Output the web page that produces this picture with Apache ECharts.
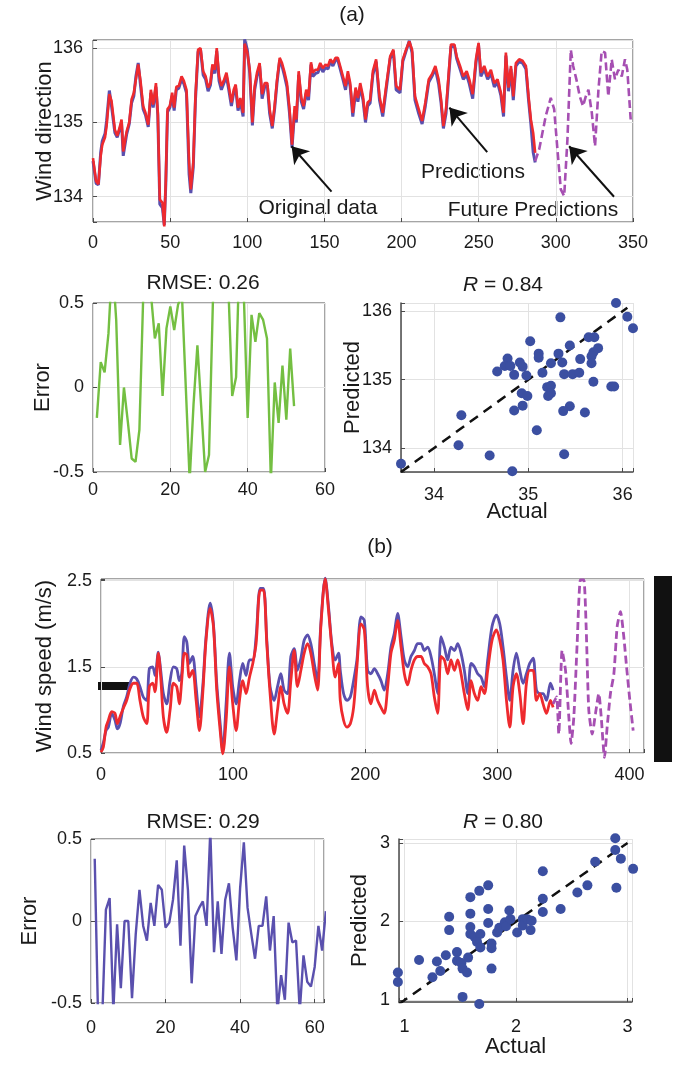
<!DOCTYPE html>
<html>
<head>
<meta charset="utf-8" />
<title>Wind direction / wind speed predictions</title>
<script src="https://cdn.jsdelivr.net/npm/echarts@6/dist/echarts.min.js"></script>
<style>
  * { margin: 0; padding: 0; }
  html, body { width: 100%; height: 100%; background: #fff; }
  #main { width: 700px; height: 1074px; }
</style>
</head>
<body>
<div id="main"></div>
<script>
// ---------- (a) wind direction ----------
var aX = [0,2,3.5,5,6,7.8,8.8,10.6,12,14.2,15.7,17.5,18.5,19.6,21.8,23.5,25,26.5,27.8,29.3,
  30.8,32.5,34,35.8,37.5,39,40.8,42,43.3,45,46.2,47.2,48.3,49.8,51.3,52.6,54,55.6,57.4,58.9,
  60.6,62.3,63.4,65,66.4,68.1,69.7,71.4,73,74.6,76.1,77.4,79,80.2,81.7,83.2,84.7,86.5,88,89.7,
  91.2,92.5,94,95.5,97.3,98.3,100,101.6,103.3,104.8,106.3,108,109.6,111.3,113,114.5,116.2,117.7,119.3,121,
  122.5,124.2,125.7,127.4,129,130.7,131.8,133.3,135,136.5,138.2,139.7,141.3,142.5,144.3,145.8,147.3,149,150.7,152.3,
  153.8,155.5,157.2,158.7,160.2,162,163.7,165.2,166.7,168.4,170.2,171.7,173.2,175,176.6,178,179.6,181.4,183.5,185.7,
  187.8,190,192.6,194.7,196.5,199,200.8,202.9,205,206.8,208.7,211.1,213.3,215.4,217.6,219.7,221.9,224,225.6,227.1,
  228.8,230.5,232,234.2,235.7,237.9,240,242.2,243.9,246.1,248.2,249.9,251.4,253.6,255.8,257.9,260.1,262.2,264.4,266.1,
  267.6,269.3,270.9,272.4,274.1,276.2,278.4,280.6,282.3,283.8,285.3,286.6];
var aActual = [134.48,134.18,134.16,134.60,134.75,134.85,135.02,135.43,135.22,134.86,
  134.80,134.92,135.00,134.55,134.84,134.98,135.26,135.36,135.62,135.80,
  135.50,135.18,135.10,134.94,135.40,135.20,135.48,135.10,133.90,133.85,
  133.62,134.18,135.14,135.20,135.36,135.16,135.44,135.46,135.58,135.52,
  135.40,134.30,134.05,134.40,135.30,135.95,135.98,135.64,135.58,135.42,
  135.50,135.74,135.66,135.96,135.56,135.44,135.52,135.62,135.44,135.22,
  135.40,135.46,135.16,135.28,135.08,136.12,135.98,135.66,134.96,135.44,
  135.62,135.76,135.32,135.48,135.50,135.12,134.92,135.18,135.54,135.84,
  135.76,135.62,135.48,135.12,134.66,135.16,135.00,135.64,135.28,135.18,
  135.40,135.30,135.78,135.62,135.66,135.67,135.76,135.68,135.74,135.72,
  135.82,135.76,135.84,135.84,135.72,135.58,135.44,135.64,135.48,135.08,
  135.42,135.28,135.48,135.30,135.00,135.22,135.26,135.64,135.82,135.30,
  135.08,135.44,135.86,135.96,135.44,135.40,135.82,135.96,136.10,135.94,
  135.30,135.12,134.98,135.22,135.54,135.62,135.72,135.52,135.26,134.92,
  135.12,135.60,136.02,136.04,135.86,135.72,135.58,135.64,135.52,135.32,
  135.80,136.04,135.62,135.72,135.58,135.66,135.48,135.54,135.36,135.08,
  135.90,135.42,135.72,135.30,135.76,135.82,135.80,135.72,135.30,134.98,
  134.60,134.46];
var aPred = [134.52,134.21,134.17,134.55,134.70,134.80,134.95,135.38,135.29,134.90,
  134.82,134.95,135.04,134.61,134.88,135.00,135.31,135.40,135.58,135.78,
  135.56,135.22,135.13,134.97,135.44,135.24,135.53,135.13,133.96,133.92,
  133.60,134.23,135.18,135.22,135.40,135.20,135.48,135.49,135.62,135.56,
  135.44,134.46,134.10,134.46,135.35,135.98,136.00,135.69,135.62,135.47,
  135.53,135.78,135.71,136.00,135.62,135.49,135.56,135.67,135.49,135.27,
  135.44,135.51,135.20,135.33,135.13,136.06,135.94,135.71,135.00,135.49,
  135.67,135.80,135.38,135.53,135.53,135.18,134.95,135.22,135.58,135.87,
  135.80,135.67,135.53,135.18,134.70,135.22,135.04,135.69,135.33,135.22,
  135.44,135.35,135.81,135.67,135.71,135.71,135.80,135.73,135.78,135.76,
  135.85,135.80,135.87,135.87,135.76,135.62,135.49,135.69,135.53,135.13,
  135.47,135.33,135.53,135.35,135.04,135.27,135.30,135.69,135.85,135.35,
  135.13,135.49,135.89,135.98,135.49,135.44,135.85,135.98,136.09,135.98,
  135.35,135.18,135.02,135.27,135.58,135.65,135.76,135.58,135.31,134.95,
  135.18,135.65,136.05,136.05,135.89,135.76,135.62,135.69,135.58,135.38,
  135.85,136.07,135.67,135.76,135.62,135.71,135.53,135.58,135.40,135.13,
  135.94,135.47,135.76,135.35,135.80,135.85,135.83,135.76,135.35,135.04,
  134.86,134.59];
var aFutX = [286.6,289.2,291.3,293.5,296.7,298.9,301,303.2,305.4,307.5,309.7,311.2,313.3,315.5,317.6,
  319.4,321.1,323.3,325.4,327.6,329.7,331.9,334,336.2,338.3,340.5,342.7,344.8,346.3,348.5];
var aFut = [134.48,134.64,134.86,135.09,135.33,135.18,134.64,134.10,134.01,134.77,135.98,135.76,135.58,135.35,135.22,
  135.35,135.44,135.13,134.68,135.44,135.96,135.94,135.35,135.85,135.58,135.71,135.62,135.85,135.71,135.04];
var aErr = [-0.18,0.15,0.09,0.32,0.75,0.40,-0.34,0.00,-0.20,-0.42,-0.44,-0.25,0.55,0.80,0.55,0.29,0.38,-0.05,0.35,0.48,
  0.34,0.49,0.55,0.00,-0.55,-0.10,0.25,-0.12,-0.50,-0.40,0.50,0.90,0.90,0.80,0.60,-0.05,0.06,0.90,0.55,-0.18,
  0.43,0.27,0.44,0.40,0.29,-0.55,0.03,-0.21,0.13,-0.19,0.23,-0.11];
var aScatX = [33.65,35.93,36.05,36.11,35.34,35.02,35.44,35.64,35.70,35.74,35.69,35.67,35.67,35.55,35.11,35.11,35.32,
  35.36,35.24,34.78,34.75,34.81,34.91,34.94,34.67,34.85,34.98,35.15,35.38,35.47,35.54,35.69,35.88,35.91,35.20,35.24,
  35.24,35.21,34.93,34.99,34.94,34.85,35.44,35.37,35.60,34.29,35.09,34.26,34.59,35.38,34.83];
var aScatY = [133.77,136.12,135.92,135.75,135.91,135.56,135.50,135.62,135.62,135.46,135.40,135.34,135.24,135.30,135.38,
  135.32,135.38,135.25,135.24,135.31,135.20,135.20,135.25,135.19,135.12,135.07,135.06,135.10,135.08,135.08,135.10,
  134.97,134.90,134.90,134.89,134.91,134.80,134.76,134.80,134.76,134.62,134.55,134.61,134.54,134.52,134.48,134.26,
  134.04,133.89,133.91,133.66];
var aFit = [[33.65, 133.65], [36.05, 136.05]];
var aStepTicks = [0, 50, 100, 150, 200, 250, 300, 350];
var aDirTicks = [134, 135, 136];
var aErrXTicks = [0, 20, 40, 60];
var errYTicks = [-0.5, 0, 0.5];
var aActTicks = [34, 35, 36];

// ---------- (b) wind speed ----------
var bX = [0,1.8,3.8,5.6,8.1,10.6,12.4,14.4,16.9,19.4,22,24.5,27,29.5,32,34.6,36.6,39.1,40.9,43.4,
  45.2,47.2,49.7,52.3,54.8,57.3,59.3,61.1,63.1,64.9,66.9,69.4,72,74.5,77,79.5,82.6,85.1,87.6,90.2,
  92.2,94.7,97.2,99.7,102.3,104.8,107.3,109.8,112.4,114.9,117.4,120.5,123,125.5,128,131.1,133.6,136.1,138.6,141.2,
  143.7,146.2,148.7,151.3,153.8,156.3,158.8,161.4,163.9,166.4,169.7,172.2,174.7,177.3,179.8,181.1,183.6,186.2,188.7,191.2,
  193.7,196.8,199.3,201.8,204.3,206.9,209.4,211.9,214.4,217,219.5,222,224.5,227.1,229.6,232.1,234.6,237.2,239.7,242.2,
  244.7,247.3,249.8,252.3,254.8,257.4,259.9,262.4,264.9,267.5,270,272.5,275,277.6,280.1,282.6,285.1,287.7,290.2,292.7,
  296,299.3,301.8,304.3,306.9,309.4,311.9,314.4,317,319.5,322,324.5,327.1,329.6,332.1,334.6,337.2,340.2,342.2];
var bActual = [0.53,0.62,0.76,0.80,0.96,0.88,0.78,0.84,1.04,1.15,1.31,1.38,1.36,1.27,1.15,1.11,1.48,1.50,1.40,1.67,
  1.46,1.19,1.07,1.34,1.50,1.48,1.34,1.42,1.85,1.79,1.54,1.62,1.27,0.92,1.27,1.85,2.24,2.00,1.31,0.84,
  0.53,1.07,1.66,1.27,1.07,1.34,1.54,1.40,1.58,1.58,1.85,2.41,2.41,1.81,1.27,1.11,1.27,1.42,1.23,1.19,
  1.62,1.71,1.46,1.60,1.81,1.87,1.77,1.54,1.34,2.00,2.53,2.20,1.77,1.58,1.66,1.46,1.19,1.11,1.15,1.34,
  1.58,2.08,2.04,1.46,1.42,1.48,1.42,1.34,1.23,1.42,1.73,1.89,2.12,1.85,1.58,1.50,1.62,1.69,1.77,1.77,
  1.69,1.73,1.62,1.42,1.19,1.85,1.73,1.58,1.73,1.69,1.77,1.66,1.46,1.19,1.54,1.50,1.42,1.38,1.27,1.58,
  1.97,2.10,2.00,1.73,1.38,1.11,1.46,1.66,1.46,1.31,1.42,1.54,1.60,1.23,1.19,1.19,1.11,1.31,1.23];
var bPred = [0.51,0.57,0.80,0.88,0.98,0.96,0.84,0.92,1.02,1.11,1.25,1.31,1.31,1.11,0.92,0.84,1.27,1.31,1.21,1.66,
  1.38,0.92,0.74,1.00,1.31,1.27,1.07,1.34,1.66,1.64,1.38,1.46,1.11,0.76,1.19,1.81,2.18,1.97,1.23,0.76,
  0.49,0.88,1.50,1.07,0.76,1.11,1.34,1.19,1.38,1.54,1.77,2.39,2.39,1.77,1.19,0.72,1.00,1.27,1.07,0.96,
  1.34,1.69,1.27,1.46,1.66,1.77,1.66,1.42,1.23,1.97,2.52,2.16,1.73,1.38,1.54,1.11,0.88,0.80,0.84,1.03,
  1.50,2.00,1.93,1.27,1.07,1.23,1.11,1.03,0.96,1.27,1.66,1.81,2.04,1.73,1.42,1.29,1.46,1.58,1.62,1.62,
  1.54,1.50,1.42,1.15,0.96,1.62,1.58,1.42,1.58,1.46,1.58,1.42,1.19,1.00,1.34,1.19,1.11,1.27,1.19,1.46,
  1.81,1.93,1.81,1.58,1.11,0.80,1.27,1.42,1.19,0.84,1.31,1.46,1.46,1.11,1.19,1.07,0.96,1.11,1.03];
var bFutX = [342.2,344.8,346.5,349,351.6,354.1,355.8,357.9,360.4,362.9,365.4,367.2,369.2,371.8,374.3,
  376.8,378.6,381.1,383.1,385.6,388.2,390.7,393.2,395.7,397.8,400.3,402.8];
var bFut = [1.07,1.15,0.72,1.69,1.46,0.92,0.61,0.92,1.77,2.51,2.51,1.97,1.00,0.72,0.96,
  1.19,0.92,0.45,0.80,1.19,1.42,1.97,2.14,1.85,1.50,1.11,0.76];
var bErr = [0.38,-0.70,-0.60,0.07,0.14,-0.55,-0.02,-0.41,0.00,0.00,-0.47,-0.08,0.19,-0.03,-0.12,0.11,-0.03,0.22,0.19,-0.04,
  -0.01,0.13,0.37,-0.15,0.46,0.19,-0.38,0.03,0.08,0.12,-0.03,0.55,-0.19,0.12,-0.20,0.13,0.23,-0.04,-0.24,0.20,
  0.48,0.08,-0.08,-0.23,-0.03,-0.03,0.15,-0.18,0.03,-0.55,-0.33,-0.48,-0.01,-0.13,-0.12,-0.55,-0.21,-0.37,-0.40,-0.28,
  -0.03,-0.18,0.06];
var bScatX = [0.94,0.94,1.13,1.25,1.29,1.32,1.37,1.40,1.40,1.47,1.47,1.51,1.52,1.56,1.57,1.52,1.59,1.59,1.59,1.59,
  1.63,1.67,1.68,1.65,1.68,1.67,1.75,1.75,1.75,1.78,1.78,1.78,1.83,1.85,1.90,1.91,1.94,1.95,2.01,2.06,
  2.06,2.10,2.13,2.14,2.24,2.24,2.24,2.40,2.55,2.64,2.71,2.89,2.89,2.94,2.90,3.05];
var bScatY = [1.35,1.23,1.51,1.29,1.49,1.37,1.57,2.06,1.89,1.61,1.50,1.47,1.40,1.35,1.54,1.04,2.31,2.10,1.93,1.84,
  1.80,2.39,1.84,1.74,1.67,0.95,2.46,2.16,1.98,1.72,1.66,1.40,1.86,1.92,1.99,1.94,2.14,2.03,1.86,2.03,
  1.95,2.03,1.89,2.01,2.64,2.29,2.12,2.16,2.37,2.46,2.76,3.06,2.91,2.80,2.43,2.67];
var bFit = [[0.95, 0.95], [3.0, 3.0]];
var bStepTicks = [0, 100, 200, 300, 400];
var bSpeedTicks = [0.5, 1.5, 2.5];
var bErrXTicks = [0, 20, 40, 60];
var bActTicks = [1, 2, 3];

var FONT = 'Liberation Sans, Arial, Helvetica, sans-serif';
var INK = '#1a1a1a';
var GRIDLINE = '#e2e2e2';
var FRAME = '#4a4a4a';
var BLUE = '#5a50ae';
var RED = '#ee2a2e';
var PURPLE = '#a64fb2';
var GREEN = '#74bf42';
var DOT = '#3b4fa1';

function pairs(xs, ys) {
  return xs.map(function (x, i) { return [x, ys[i]]; });
}
function indexed(ys) {
  return ys.map(function (y, i) { return [i + 1, y]; });
}
// show a label only where the value is in the tick list
function only(list) {
  return function (v) {
    for (var i = 0; i < list.length; i++) {
      if (Math.abs(v - list[i]) < 1e-6) return String(list[i]);
    }
    return '';
  };
}

function axis(opt) {
  var a = {
    type: 'value',
    gridIndex: opt.grid,
    min: opt.min,
    max: opt.max,
    axisLine: { show: !!opt.line, onZero: false, lineStyle: { color: FRAME, width: 1.5 } },
    axisTick: { show: true, inside: true, length: 4, lineStyle: { color: FRAME } },
    splitLine: { show: true, lineStyle: { color: GRIDLINE, width: 1 } },
    axisLabel: { color: INK, fontSize: 18, fontFamily: FONT, margin: opt.margin || 9, formatter: only(opt.ticks) },
    name: opt.name || '',
    nameLocation: 'middle',
    nameGap: opt.gap || 30,
    nameMoveOverlap: false,
    nameTextStyle: { color: INK, fontSize: 22, fontFamily: FONT }
  };
  if (opt.interval != null) a.interval = opt.interval;
  if (opt.split != null) { a.splitNumber = opt.split; a.minInterval = opt.minInt; a.maxInterval = opt.minInt; }
  return a;
}

function text(x, y, s, size, rich) {
  return {
    type: 'text', x: x, y: y, silent: true,
    style: {
      text: s, fill: INK, fontSize: size, fontFamily: FONT,
      align: 'center', verticalAlign: 'middle', textAlign: 'center', textVerticalAlign: 'middle',
      rich: rich || {}
    }
  };
}
var italicR = { i: { fontStyle: 'italic', fontSize: 21, fontFamily: FONT, fill: INK } };

var chart = echarts.init(document.getElementById('main'), null, { renderer: 'canvas' });
chart.setOption({
  animation: false,
  backgroundColor: '#fff',
  grid: [
    { left: 93, top: 40, width: 540, height: 182, show: true, borderColor: FRAME, borderWidth: 1 },
    { left: 93, top: 303, width: 232, height: 169, show: true, borderColor: FRAME, borderWidth: 1 },
    { left: 401, top: 303, width: 232, height: 169 },
    { left: 101, top: 579, width: 543, height: 174, show: true, borderColor: FRAME, borderWidth: 1 },
    { left: 91, top: 839, width: 233, height: 164, show: true, borderColor: FRAME, borderWidth: 1 },
    { left: 399, top: 839, width: 233, height: 163 }
  ],
  xAxis: [
    axis({ grid: 0, min: 0, max: 350, interval: 50, ticks: aStepTicks, margin: 12 }),
    axis({ grid: 1, min: 0, max: 60, interval: 20, ticks: aErrXTicks, margin: 9 }),
    axis({ grid: 2, min: 33.65, max: 36.11, split: 2, minInt: 1, ticks: aActTicks, line: true, margin: 14,
      name: 'Actual', gap: 29 }),
    axis({ grid: 3, min: 0, max: 411, interval: 100, ticks: bStepTicks, margin: 13 }),
    axis({ grid: 4, min: 0, max: 62.5, interval: 20, ticks: bErrXTicks, margin: 16 }),
    axis({ grid: 5, min: 0.95, max: 3.04, split: 2, minInt: 1, ticks: bActTicks, line: true, margin: 16,
      name: 'Actual', gap: 34 })
  ],
  yAxis: [
    axis({ grid: 0, min: 133.66, max: 136.11, split: 2, minInt: 1, ticks: aDirTicks, margin: 10,
      name: 'Wind direction', gap: 37 }),
    axis({ grid: 1, min: -0.5, max: 0.5, interval: 0.5, ticks: errYTicks, name: 'Error', gap: 39 }),
    axis({ grid: 2, min: 133.65, max: 136.12, split: 2, minInt: 1, ticks: aDirTicks, line: true, name: 'Predicted', gap: 37 }),
    axis({ grid: 3, min: 0.5, max: 2.52, interval: 1, ticks: bSpeedTicks, name: 'Wind speed (m/s)', gap: 45 }),
    axis({ grid: 4, min: -0.5, max: 0.5, interval: 0.5, ticks: errYTicks, name: 'Error', gap: 50 }),
    axis({ grid: 5, min: 0.975, max: 3.05, split: 2, minInt: 1, ticks: bActTicks, line: true, name: 'Predicted', gap: 28 })
  ],
  series: [
    { type: 'line', xAxisIndex: 0, yAxisIndex: 0, data: pairs(aX, aActual), showSymbol: false, clip: false,
      lineStyle: { color: BLUE, width: 3 } },
    { type: 'line', xAxisIndex: 0, yAxisIndex: 0, data: pairs(aX, aPred), showSymbol: false, clip: false,
      lineStyle: { color: RED, width: 2.6 },
      markLine: {
        silent: true, symbol: ['none', 'arrow'], symbolSize: 16, label: { show: false },
        lineStyle: { color: '#111', width: 2, type: 'solid' },
        emphasis: { disabled: true },
        data: [
          [{ coord: [154.6, 134.07] }, { coord: [128.7, 134.68] }],
          [{ coord: [255.5, 134.60] }, { coord: [231.0, 135.20] }],
          [{ coord: [337.7, 134.00] }, { coord: [308.6, 134.68] }]
        ]
      } },
    { type: 'line', xAxisIndex: 0, yAxisIndex: 0, data: pairs(aFutX, aFut), showSymbol: false, clip: false,
      lineStyle: { color: PURPLE, width: 2.6, type: [8, 4] } },
    { type: 'line', xAxisIndex: 1, yAxisIndex: 1, data: indexed(aErr), showSymbol: false,
      lineStyle: { color: GREEN, width: 2.4 } },
    { type: 'scatter', xAxisIndex: 2, yAxisIndex: 2, data: pairs(aScatX, aScatY), symbolSize: 10, clip: false,
      itemStyle: { color: DOT, opacity: 1 } },
    { type: 'line', xAxisIndex: 2, yAxisIndex: 2, data: aFit, showSymbol: false, z: 1,
      lineStyle: { color: '#111', width: 2.5, type: [10, 7] } },

    { type: 'line', xAxisIndex: 3, yAxisIndex: 3, data: pairs(bX, bActual), showSymbol: false, clip: false, smooth: 0.3,
      lineStyle: { color: BLUE, width: 2.8 } },
    { type: 'line', xAxisIndex: 3, yAxisIndex: 3, data: pairs(bX, bPred), showSymbol: false, clip: false, smooth: 0.3,
      lineStyle: { color: RED, width: 2.8 } },
    { type: 'line', xAxisIndex: 3, yAxisIndex: 3, data: pairs(bFutX, bFut), showSymbol: false, clip: false, smooth: 0.2,
      lineStyle: { color: PURPLE, width: 2.8, type: [8, 4] } },
    { type: 'line', xAxisIndex: 4, yAxisIndex: 4, data: indexed(bErr), showSymbol: false,
      lineStyle: { color: BLUE, width: 2.4 } },
    { type: 'scatter', xAxisIndex: 5, yAxisIndex: 5, data: pairs(bScatX, bScatY), symbolSize: 10, clip: false,
      itemStyle: { color: DOT, opacity: 1 } },
    { type: 'line', xAxisIndex: 5, yAxisIndex: 5, data: bFit, showSymbol: false, z: 1,
      lineStyle: { color: '#111', width: 2.5, type: [10, 7] } }
  ],
  graphic: [
    text(352, 15, '(a)', 21),
    text(318, 208, 'Original data', 21),
    text(473, 172, 'Predictions', 21),
    text(533, 210, 'Future Predictions', 21),
    text(203, 283, 'RMSE: 0.26', 21),
    text(503, 285, '{i|R} = 0.84', 21, italicR),
    text(380, 547, '(b)', 21),
    text(203, 822, 'RMSE: 0.29', 21),
    text(503, 822, '{i|R} = 0.80', 21, italicR),
    { type: 'rect', silent: true, shape: { x: 98, y: 682, width: 31, height: 8 }, style: { fill: '#111' } },
    { type: 'rect', silent: true, shape: { x: 654, y: 576, width: 18, height: 186 }, style: { fill: '#111' } }
  ]
});
</script>
</body>
</html>
